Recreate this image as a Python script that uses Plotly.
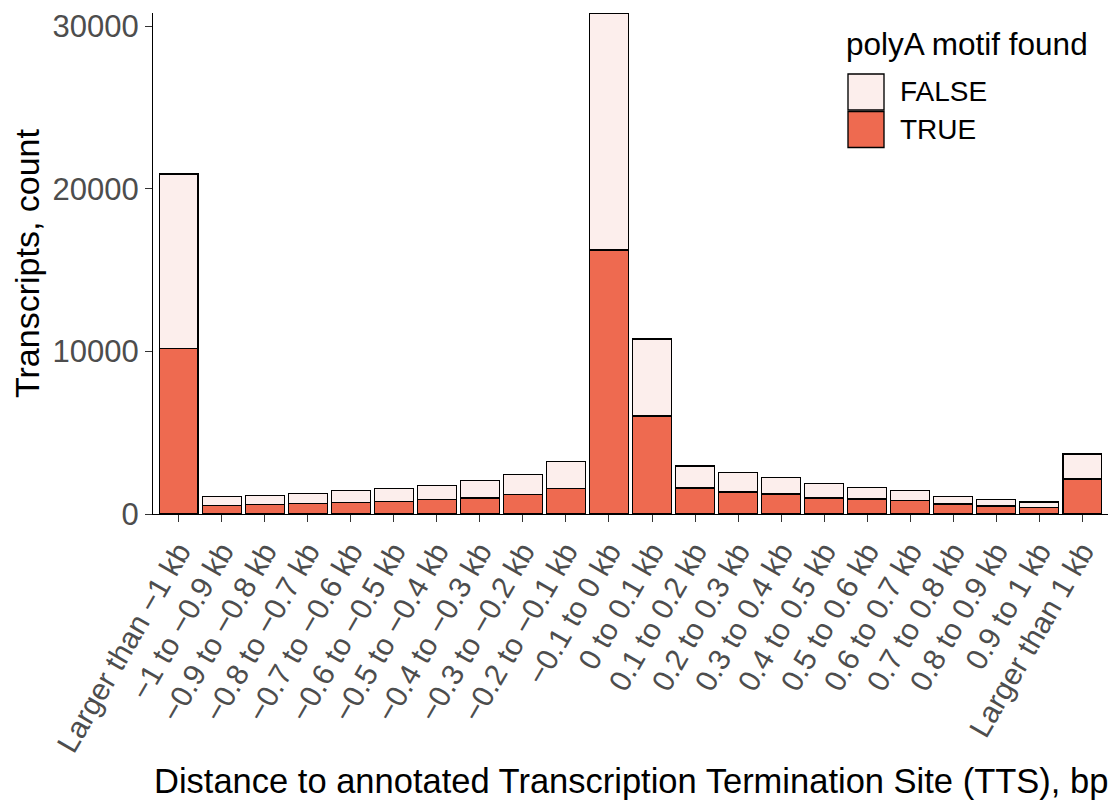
import plotly.graph_objects as go

# Distance bins relative to annotated TTS
categories = [
    "Larger than \u22121 kb",
    "\u22121 to \u22120.9 kb", "\u22120.9 to \u22120.8 kb", "\u22120.8 to \u22120.7 kb",
    "\u22120.7 to \u22120.6 kb", "\u22120.6 to \u22120.5 kb", "\u22120.5 to \u22120.4 kb",
    "\u22120.4 to \u22120.3 kb", "\u22120.3 to \u22120.2 kb", "\u22120.2 to \u22120.1 kb",
    "\u22120.1 to 0 kb",
    "0 to 0.1 kb", "0.1 to 0.2 kb", "0.2 to 0.3 kb", "0.3 to 0.4 kb", "0.4 to 0.5 kb",
    "0.5 to 0.6 kb", "0.6 to 0.7 kb", "0.7 to 0.8 kb", "0.8 to 0.9 kb", "0.9 to 1 kb",
    "Larger than 1 kb",
]

# Transcript counts with a polyA motif (TRUE) and without (FALSE)
true_counts = [10170, 528, 590, 633, 713, 765, 880, 983, 1188, 1557, 16245,
               6030, 1598, 1352, 1229, 983, 922, 819, 614, 492, 410, 2151]
false_counts = [10750, 560, 559, 645, 731, 785, 860, 1064, 1228, 1681, 14565,
                4745, 1352, 1188, 1004, 881, 696, 615, 472, 389, 327, 1537]

y_ticks = [0, 10000, 20000, 30000]

COLOR_TRUE = "#EE6A50"
COLOR_FALSE = "#FCEEEC"
FONT = "Liberation Sans, Arial, sans-serif"

W, H = 1109, 800
ML, MR, MT, MB = 153, 1, 13, 286

def px(x):
    return (x - ML) / (W - ML - MR)

def py(y):
    return (H - MB - y) / (H - MT - MB)

fig = go.Figure()
fig.add_trace(go.Bar(
    x=categories, y=true_counts, name="TRUE",
    marker=dict(color=COLOR_TRUE, line=dict(color="black", width=1.35)),
    width=0.9, showlegend=False,
))
fig.add_trace(go.Bar(
    x=categories, y=false_counts, name="FALSE",
    marker=dict(color=COLOR_FALSE, line=dict(color="black", width=1.35)),
    width=0.9, showlegend=False,
))

# legend keys and labels
shapes = []
annotations = []
keys = [("FALSE", COLOR_FALSE, 74, 110), ("TRUE", COLOR_TRUE, 111.5, 147.5)]
for label, col, y0, y1 in keys:
    shapes.append(dict(type="rect", xref="paper", yref="paper",
                       x0=px(848), x1=px(884), y0=py(y1), y1=py(y0),
                       fillcolor=col, line=dict(color="black", width=1.35)))
    annotations.append(dict(text=label, xref="paper", yref="paper",
                            x=px(898), y=py((y0 + y1) / 2), xanchor="left", yanchor="middle",
                            showarrow=False, font=dict(size=28, color="black", family=FONT)))
annotations.append(dict(text="polyA motif found", xref="paper", yref="paper",
                        x=px(844), y=py(44), xanchor="left", yanchor="middle",
                        showarrow=False, font=dict(size=31.5, color="black", family=FONT)))

# axis titles
annotations.append(dict(text="Distance to annotated Transcription Termination Site (TTS), bp",
                        xref="paper", yref="paper", x=px(631), y=py(781),
                        xanchor="center", yanchor="middle", showarrow=False,
                        font=dict(size=34.5, color="black", family=FONT)))
annotations.append(dict(text="Transcripts, count", xref="paper", yref="paper",
                        x=px(27), y=py(264), xanchor="center", yanchor="middle",
                        textangle=-90, showarrow=False,
                        font=dict(size=34, color="black", family=FONT)))

fig.update_layout(
    barmode="stack",
    bargap=0.1,
    width=W, height=H,
    margin=dict(l=ML, r=MR, t=MT, b=MB, autoexpand=False),
    plot_bgcolor="white", paper_bgcolor="white",
    font=dict(family=FONT),
    shapes=shapes, annotations=annotations,
    showlegend=False,
)
fig.update_xaxes(
    range=[-0.6, len(categories) - 0.4],
    showline=True, linecolor="black", linewidth=1.1,
    ticks="outside", ticklen=7, tickwidth=1.1, tickcolor="#333333",
    tickangle=-60, tickfont=dict(size=30, color="#4D4D4D", family=FONT),
    showgrid=False, zeroline=False, automargin=False,
)
fig.update_yaxes(
    range=[0, 30830],
    tickvals=y_ticks, ticktext=[str(v) for v in y_ticks],
    showline=True, linecolor="black", linewidth=1.1,
    ticks="outside", ticklen=7, tickwidth=1.1, tickcolor="#333333",
    tickfont=dict(size=31, color="#4D4D4D", family=FONT),
    showgrid=False, zeroline=False, automargin=False,
)

fig.write_html("out.html")
